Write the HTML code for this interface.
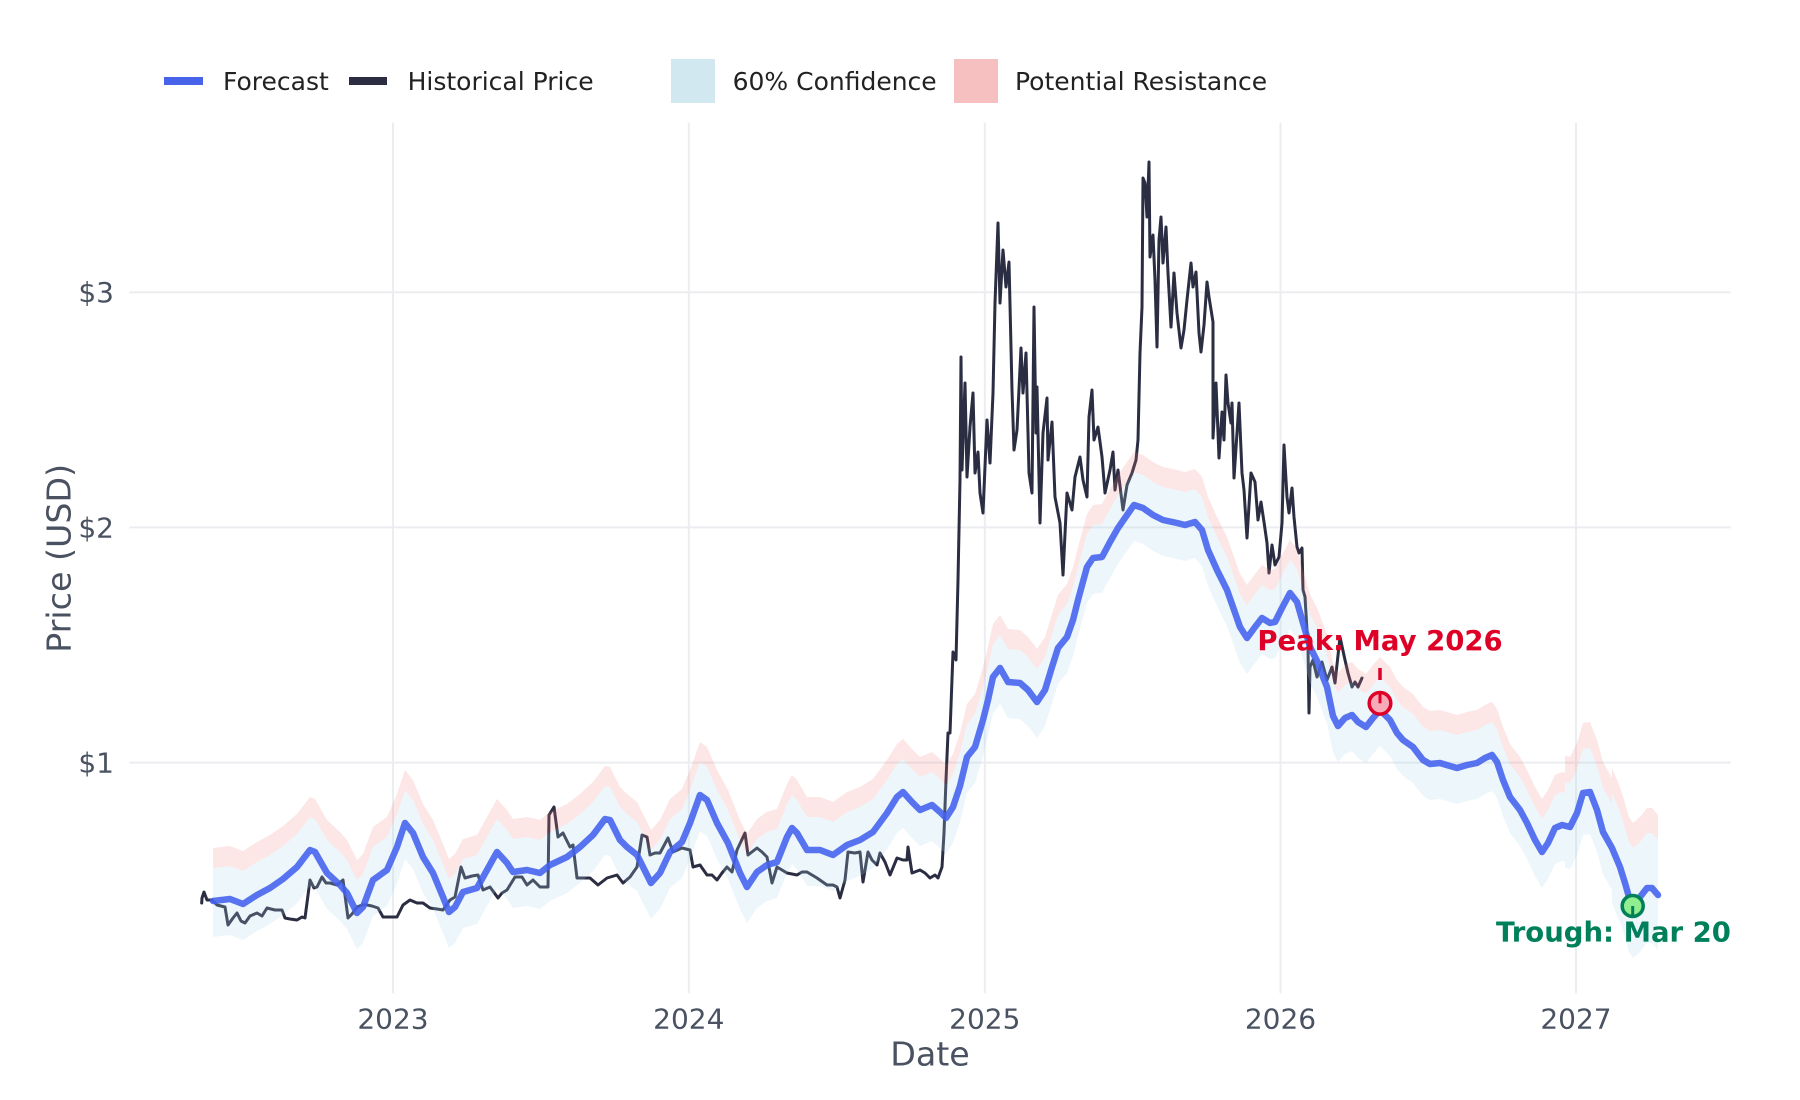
<!DOCTYPE html>
<html>
<head>
<meta charset="utf-8">
<style>
html,body{margin:0;padding:0;background:#fff;}
svg{display:block;}
text{font-family:"DejaVu Sans","Liberation Sans",sans-serif;}
</style>
</head>
<body>
<svg width="1800" height="1100" viewBox="0 0 1800 1100" xmlns="http://www.w3.org/2000/svg">
<defs>
<path id="fa" d="M213,901 L230,899 L243,904 L257,895 L270,888 L283,879 L297,867 L310,850 L315,852 L327,873 L340,885 L347,893 L357,913 L363,907 L373,880 L387,870 L397,847 L405,823 L413,833 L423,857 L433,873 L443,897 L449,912 L455,907 L463,892 L477,888 L487,870 L497,852 L507,863 L513,872 L527,870 L540,873 L550,865 L567,857 L580,847 L593,835 L605,819 L610,820 L620,840 L627,847 L637,855 L651,883 L660,873 L670,852 L682,842 L690,823 L700,795 L707,800 L717,823 L728,843 L740,873 L747,887 L757,872 L767,865 L777,862 L787,837 L792,828 L797,833 L807,850 L820,850 L833,855 L847,845 L860,840 L873,832 L887,813 L897,797 L903,792 L912,802 L920,810 L932,805 L940,812 L946,818 L953,807 L960,786 L967,757 L975,747 L983,720 L988,700 L993,677 L1000,668 L1008,682 L1020,683 L1028,690 L1037,702 L1045,690 L1052,667 L1058,648 L1067,637 L1073,620 L1078,600 L1087,567 L1093,558 L1102,557 L1110,542 L1118,528 L1127,515 L1134,505 L1143,508 L1153,515 L1163,520 L1177,523 L1185,525 L1195,522 L1202,530 L1208,550 L1217,570 L1227,590 L1233,607 L1240,627 L1247,638 L1255,627 L1262,618 L1270,623 L1275,622 L1282,608 L1290,593 L1297,602 L1303,623 L1310,647 L1318,663 L1323,677 L1327,687 L1333,716 L1338,726 L1345,718 L1352,715 L1358,722 L1366,727 L1373,718 L1380,710 L1390,720 L1397,733 L1403,740 L1413,747 L1423,760 L1430,764 L1440,763 L1450,766 L1457,768 L1467,765 L1477,763 L1485,758 L1492,755 L1497,762 L1503,780 L1510,797 L1520,810 L1527,823 L1535,840 L1542,852 L1548,843 L1555,828 L1562,825 L1570,827 L1577,813 L1583,793 L1590,792 L1597,810 L1603,832 L1612,848 L1620,867 L1625,883 L1629,897 L1633,903 L1640,897 L1647,888 L1652,888 L1658,895 L1658,1400 L213,1400 Z"/>
<mask id="c1" maskUnits="userSpaceOnUse" x="0" y="0" width="1800" height="1100">
<use href="#fa" transform="translate(0,-33)" fill="#fff"/><use href="#fa" transform="translate(0,36)" fill="#000"/></mask>
<mask id="p1" maskUnits="userSpaceOnUse" x="0" y="0" width="1800" height="1100">
<use href="#fa" transform="translate(0,-53)" fill="#fff"/><use href="#fa" transform="translate(0,-33)" fill="#000"/></mask>
<mask id="c2" maskUnits="userSpaceOnUse" x="0" y="0" width="1800" height="1100">
<use href="#fa" transform="translate(0,-44)" fill="#fff"/><use href="#fa" transform="translate(0,42)" fill="#000"/></mask>
<mask id="p2" maskUnits="userSpaceOnUse" x="0" y="0" width="1800" height="1100">
<use href="#fa" transform="translate(0,-70)" fill="#fff"/><use href="#fa" transform="translate(0,-44)" fill="#000"/></mask>
<mask id="c3" maskUnits="userSpaceOnUse" x="0" y="0" width="1800" height="1100">
<use href="#fa" transform="translate(0,-55)" fill="#fff"/><use href="#fa" transform="translate(0,55)" fill="#000"/></mask>
<mask id="p3" maskUnits="userSpaceOnUse" x="0" y="0" width="1800" height="1100">
<use href="#fa" transform="translate(0,-80)" fill="#fff"/><use href="#fa" transform="translate(0,-55)" fill="#000"/></mask>
</defs>

<rect x="0" y="0" width="1800" height="1100" fill="#fff"/>

<!-- gridlines -->
<g stroke="#ebedf0" stroke-width="2">
<line x1="129.3" y1="292.2" x2="1730.7" y2="292.2"/>
<line x1="129.3" y1="527.4" x2="1730.7" y2="527.4"/>
<line x1="129.3" y1="762.6" x2="1730.7" y2="762.6"/>
<line x1="393" y1="122.7" x2="393" y2="993.3"/>
<line x1="688.8" y1="122.7" x2="688.8" y2="993.3"/>
<line x1="984.8" y1="122.7" x2="984.8" y2="993.3"/>
<line x1="1280.5" y1="122.7" x2="1280.5" y2="993.3"/>
<line x1="1576" y1="122.7" x2="1576" y2="993.3"/>
</g>

<!-- historical price -->
<polyline fill="none" stroke="#2b2d42" stroke-width="3" stroke-linejoin="round" stroke-linecap="round" points="201.7,903 202,898 204,892 207,900 212,900 217,905 225,907 228,925 233,918 237,913 241,921 245,923 250,916 257,913 262,916 267,908 275,910 282,910 285,918 290,919 297,920 302,917 305,918 310,880 314,888 317,887 322,877 326,883 330,883 337,885 343,880 348,918 352,914 357,907 362,905 367,905 372,906 378,908 383,917 390,917 397,917 403,905 410,900 417,903 423,903 430,908 437,909 443,910 450,900 455,897 461,867 465,878 472,876 478,875 483,890 490,887 498,898 502,893 507,890 515,877 522,877 527,885 533,880 540,887 548,887 549,815 554,807 558,837 563,833 570,847 573,845 577,878 584,878 590,878 598,885 607,878 617,875 623,883 630,877 637,867 642,835 647,837 650,855 655,853 660,853 668,838 673,852 682,848 690,850 693,867 700,865 707,875 712,875 717,880 722,873 727,867 732,872 737,850 745,833 748,855 757,848 762,852 767,857 772,883 777,867 782,870 787,873 797,875 802,872 807,872 812,875 817,878 827,885 833,885 837,887 840,898 845,880 848,852 855,853 860,852 863,882 868,852 872,860 877,865 880,853 885,862 890,875 897,858 903,860 907,860 908,847 912,873 920,870 925,873 930,878 935,875 938,878 942,867 944,833 946,780 948,733 950,733 953,652 956,660 958,580 960,480 961,357 962,470 965,383 967,477 970,427 973,393 975,473 978,452 980,493 983,513 987,420 990,463 993,393 995,303 998,223 1000,303 1003,250 1006,287 1009,262 1012,390 1014,450 1017,430 1021,348 1023,393 1026,353 1029,473 1032,493 1034,307 1036,433 1037,387 1040,523 1043,433 1047,398 1048,460 1052,422 1055,497 1060,523 1063,575 1067,493 1072,510 1075,477 1080,457 1083,480 1087,497 1089,417 1092,390 1094,440 1098,427 1102,457 1105,493 1110,470 1113,452 1115,490 1118,470 1123,510 1127,485 1132,473 1136,460 1138,440 1140,353 1142,307 1143,178 1145,183 1147,217 1149,162 1150,257 1153,235 1155,280 1157,347 1159,240 1161,217 1163,263 1166,227 1168,273 1171,327 1174,273 1177,313 1181,348 1184,330 1187,300 1191,263 1193,287 1196,272 1199,333 1201,352 1204,325 1207,282 1209,297 1213,322 1213,438 1216,383 1219,458 1222,412 1224,440 1226,375 1228,403 1231,423 1232,403 1234,478 1237,433 1239,403 1242,473 1244,490 1247,538 1251,473 1255,482 1258,520 1261,502 1264,522 1267,543 1269,573 1272,545 1275,565 1279,557 1282,523 1284,445 1287,497 1289,513 1292,488 1294,517 1297,547 1299,553 1302,548 1303,590 1305,597 1308,647 1309,713 1310,667 1313,660 1317,677 1322,662 1327,680 1332,667 1335,683 1340,637 1345,660 1348,673 1352,687 1355,682 1358,687 1362,678"/>

<!-- bands -->
<g>
<rect x="213" y="0" width="1352" height="1100" fill="#f08080" fill-opacity="0.2" mask="url(#p1)"/>
<rect x="213" y="0" width="1352" height="1100" fill="#add8e6" fill-opacity="0.22" mask="url(#c1)"/>
<rect x="1565" y="0" width="47" height="1100" fill="#f08080" fill-opacity="0.2" mask="url(#p2)"/>
<rect x="1565" y="0" width="47" height="1100" fill="#add8e6" fill-opacity="0.22" mask="url(#c2)"/>
<rect x="1612" y="0" width="46.5" height="1100" fill="#f08080" fill-opacity="0.2" mask="url(#p3)"/>
<rect x="1612" y="0" width="46.5" height="1100" fill="#add8e6" fill-opacity="0.22" mask="url(#c3)"/>
</g>

<!-- forecast -->
<polyline fill="none" stroke="#4361ee" stroke-opacity="0.88" stroke-width="6.5" stroke-linejoin="round" stroke-linecap="round" points="213,901 230,899 243,904 257,895 270,888 283,879 297,867 310,850 315,852 327,873 340,885 347,893 357,913 363,907 373,880 387,870 397,847 405,823 413,833 423,857 433,873 443,897 449,912 455,907 463,892 477,888 487,870 497,852 507,863 513,872 527,870 540,873 550,865 567,857 580,847 593,835 605,819 610,820 620,840 627,847 637,855 651,883 660,873 670,852 682,842 690,823 700,795 707,800 717,823 728,843 740,873 747,887 757,872 767,865 777,862 787,837 792,828 797,833 807,850 820,850 833,855 847,845 860,840 873,832 887,813 897,797 903,792 912,802 920,810 932,805 940,812 946,818 953,807 960,786 967,757 975,747 983,720 988,700 993,677 1000,668 1008,682 1020,683 1028,690 1037,702 1045,690 1052,667 1058,648 1067,637 1073,620 1078,600 1087,567 1093,558 1102,557 1110,542 1118,528 1127,515 1134,505 1143,508 1153,515 1163,520 1177,523 1185,525 1195,522 1202,530 1208,550 1217,570 1227,590 1233,607 1240,627 1247,638 1255,627 1262,618 1270,623 1275,622 1282,608 1290,593 1297,602 1303,623 1310,647 1318,663 1323,677 1327,687 1333,716 1338,726 1345,718 1352,715 1358,722 1366,727 1373,718 1380,710 1390,720 1397,733 1403,740 1413,747 1423,760 1430,764 1440,763 1450,766 1457,768 1467,765 1477,763 1485,758 1492,755 1497,762 1503,780 1510,797 1520,810 1527,823 1535,840 1542,852 1548,843 1555,828 1562,825 1570,827 1577,813 1583,793 1590,792 1597,810 1603,832 1612,848 1620,867 1625,883 1629,897 1633,903 1640,897 1647,888 1652,888 1658,895"/>

<!-- peak marker -->
<line x1="1380" y1="668" x2="1380" y2="680" stroke="#de0026" stroke-width="3.5"/>
<circle cx="1380" cy="703.3" r="10.8" fill="#f9aab8" stroke="#de0026" stroke-width="3.5"/>
<line x1="1380" y1="694" x2="1380" y2="703.3" stroke="#de0026" stroke-width="3"/>
<text x="1380" y="650" text-anchor="middle" font-size="27.5" font-weight="bold" fill="#de0026">Peak: May 2026</text>

<!-- trough marker -->
<circle cx="1632.7" cy="906" r="10.5" fill="#90ee90" stroke="#00805a" stroke-width="3.5"/>
<line x1="1632.7" y1="906" x2="1632.7" y2="915" stroke="#00805a" stroke-width="3"/>
<text x="1496" y="941.7" font-size="27.5" font-weight="bold" fill="#00805a">Trough: Mar 20</text>

<!-- y tick labels -->
<g font-size="28" fill="#4a5261" text-anchor="end">
<text x="114" y="302.2">$3</text>
<text x="114" y="537.4">$2</text>
<text x="114" y="772.6">$1</text>
</g>
<!-- x tick labels -->
<g font-size="28" fill="#4a5261" text-anchor="middle">
<text x="393" y="1028.5">2023</text>
<text x="688.8" y="1028.5">2024</text>
<text x="984.8" y="1028.5">2025</text>
<text x="1280.5" y="1028.5">2026</text>
<text x="1576" y="1028.5">2027</text>
</g>

<!-- axis titles -->
<text x="930" y="1065.5" text-anchor="middle" font-size="33.3" fill="#4a5261">Date</text>
<text x="70.5" y="558.3" text-anchor="middle" font-size="33.3" fill="#4a5261" transform="rotate(-90 70.5 558.3)">Price (USD)</text>

<!-- legend -->
<rect x="164" y="77" width="39" height="8" fill="#4763ea"/>
<text x="223" y="90" font-size="25" fill="#222">Forecast</text>
<rect x="349" y="77" width="38" height="8" fill="#2b2d42"/>
<text x="407.6" y="90" font-size="25" fill="#222">Historical Price</text>
<rect x="671" y="59" width="44" height="44" fill="#d2e8f0"/>
<text x="732.6" y="90" font-size="25" fill="#222">60% Confidence</text>
<rect x="954" y="59" width="44" height="44" fill="#f7c0c0"/>
<text x="1015" y="90" font-size="25" fill="#222">Potential Resistance</text>
</svg>
</body>
</html>
